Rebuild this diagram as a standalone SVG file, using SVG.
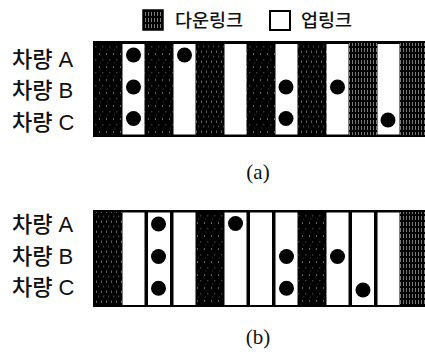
<svg xmlns="http://www.w3.org/2000/svg" width="425" height="352" viewBox="0 0 425 352">
  <style>
    .lbl { font-family: "Liberation Sans", "Noto Sans CJK KR", sans-serif; font-size: 22px; font-weight: 500; fill: #111; }
    .leg { font-family: "Noto Sans CJK KR", "Liberation Sans", sans-serif; font-size: 18.5px; font-weight: 500; fill: #111; }
    .cap { font-family: "Liberation Serif", "DejaVu Serif", serif; font-size: 21px; fill: #111; }
    .up { fill: #fff; }
    .box { fill: #000; }
    .dot { fill: #000; }
  </style>
  <defs>
    <!-- downlink slot texture: near-black with sparse broken white streaks -->
    <pattern id="hatchD" patternUnits="userSpaceOnUse" width="7" height="13">
      <rect width="7" height="13" fill="#000"/>
      <rect x="1" y="1" width="0.7" height="2" fill="#fff" opacity="0.55"/>
      <rect x="4.5" y="7" width="0.7" height="1.5" fill="#fff" opacity="0.45"/>
      <rect x="2.5" y="10.5" width="0.6" height="1" fill="#fff" opacity="0.4"/>
    </pattern>
    <pattern id="hatchM" patternUnits="userSpaceOnUse" width="5" height="10">
      <rect width="5" height="10" fill="#000"/>
      <rect x="1" y="0.5" width="0.7" height="2.5" fill="#fff" opacity="0.55"/>
      <rect x="3.5" y="5.5" width="0.6" height="2" fill="#fff" opacity="0.5"/>
    </pattern>
    <pattern id="hatchL" patternUnits="userSpaceOnUse" width="3" height="6">
      <rect width="3" height="6" fill="#000"/>
      <rect x="1" y="0" width="0.8" height="4" fill="#fff" opacity="0.6"/>
    </pattern>
  </defs>

  <!-- legend -->
  <g id="legend">
    <rect x="143" y="10" width="20" height="20" fill="url(#hatchL)" stroke="#000" stroke-width="1.5"/>
    <text class="leg" x="175" y="27">다운링크</text>
    <rect x="270" y="11" width="20" height="19" fill="#fff" stroke="#000" stroke-width="2"/>
    <text class="leg" x="301" y="27">업링크</text>
  </g>

  <!-- row labels -->
  <g id="labels-a">
    <text class="lbl" x="12" y="66.5">차량 A</text>
    <text class="lbl" x="12" y="98">차량 B</text>
    <text class="lbl" x="12" y="130">차량 C</text>
  </g>
  <g id="labels-b">
    <text class="lbl" x="12" y="232">차량 A</text>
    <text class="lbl" x="12" y="263.5">차량 B</text>
    <text class="lbl" x="12" y="295">차량 C</text>
  </g>

  <!-- frame (a): alternating downlink / uplink slots -->
  <g id="frame-a">
    <rect class="box" x="93" y="41" width="334" height="96"/>
    <rect x="95" y="43" width="28" height="92" fill="url(#hatchD)"/>
    <rect x="144" y="43" width="30" height="92" fill="url(#hatchD)"/>
    <rect x="195" y="43" width="30" height="92" fill="url(#hatchM)"/>
    <rect x="246" y="43" width="30" height="92" fill="url(#hatchD)"/>
    <rect x="297" y="43" width="30" height="92" fill="url(#hatchM)"/>
    <rect x="348" y="43" width="30" height="92" fill="url(#hatchL)"/>
    <rect x="399" y="43" width="28" height="92" fill="url(#hatchL)"/>
    <rect class="up" x="122.5" y="44" width="22" height="90.5"/>
    <rect class="up" x="173.5" y="44" width="22" height="90.5"/>
    <rect class="up" x="224.5" y="44" width="22" height="90.5"/>
    <rect class="up" x="275.5" y="44" width="22" height="90.5"/>
    <rect class="up" x="326.5" y="44" width="22" height="90.5"/>
    <rect class="up" x="377.5" y="44" width="22" height="90.5"/>
  </g>
  <g id="alloc-a">
    <circle class="dot" cx="133.5" cy="55" r="7.5"/>
    <circle class="dot" cx="133.5" cy="87" r="7.5"/>
    <circle class="dot" cx="133.5" cy="118.5" r="7.5"/>
    <circle class="dot" cx="184.5" cy="55" r="7.5"/>
    <circle class="dot" cx="286" cy="87" r="7.5"/>
    <circle class="dot" cx="286" cy="118.5" r="7.5"/>
    <circle class="dot" cx="337.5" cy="87" r="7.5"/>
    <circle class="dot" cx="388" cy="120" r="7.5"/>
  </g>
  <text class="cap" x="258" y="179" text-anchor="middle">(a)</text>

  <!-- frame (b): grouped downlink / uplink slots -->
  <g id="frame-b">
    <rect class="box" x="93" y="210" width="334" height="97"/>
    <rect x="95" y="212" width="28" height="93" fill="url(#hatchM)"/>
    <rect x="195" y="212" width="30" height="93" fill="url(#hatchD)"/>
    <rect x="297" y="212" width="30" height="93" fill="url(#hatchD)"/>
    <rect x="399" y="212" width="28" height="93" fill="url(#hatchL)"/>
    <rect class="up" x="122.5" y="212.5" width="22" height="92.5"/>
    <rect class="up" x="148" y="212.5" width="22" height="92.5"/>
    <rect class="up" x="173.5" y="212.5" width="22" height="92.5"/>
    <rect class="up" x="224.5" y="212.5" width="22" height="92.5"/>
    <rect class="up" x="250" y="212.5" width="22" height="92.5"/>
    <rect class="up" x="275.5" y="212.5" width="22" height="92.5"/>
    <rect class="up" x="326.5" y="212.5" width="22" height="92.5"/>
    <rect class="up" x="352" y="212.5" width="22" height="92.5"/>
    <rect class="up" x="377.5" y="212.5" width="22" height="92.5"/>
  </g>
  <g id="alloc-b">
    <circle class="dot" cx="158.5" cy="224" r="7.5"/>
    <circle class="dot" cx="158.5" cy="256.5" r="7.5"/>
    <circle class="dot" cx="158.5" cy="288.3" r="7.5"/>
    <circle class="dot" cx="235.5" cy="223.5" r="7.5"/>
    <circle class="dot" cx="286.5" cy="256.5" r="7.5"/>
    <circle class="dot" cx="286.5" cy="288.3" r="7.5"/>
    <circle class="dot" cx="337.5" cy="256.5" r="7.5"/>
    <circle class="dot" cx="363" cy="290" r="7.5"/>
  </g>
  <text class="cap" x="258" y="344" text-anchor="middle">(b)</text>
</svg>
